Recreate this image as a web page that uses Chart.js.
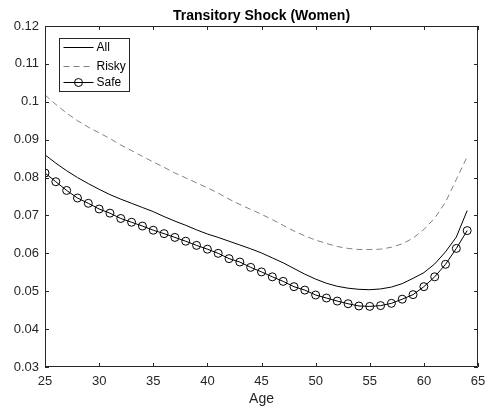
<!DOCTYPE html>
<html>
<head>
<meta charset="utf-8">
<script src="https://cdn.jsdelivr.net/npm/chart.js@4.4.0/dist/chart.umd.min.js"></script>
<style>
  html, body { margin: 0; padding: 0; background: #fff; }
</style>
</head>
<body>
<canvas id="shockChart" width="489" height="411"></canvas>
<script>
// values
const ages = [25, 26, 27, 28, 29, 30, 31, 32, 33, 34, 35, 36, 37, 38, 39, 40, 41, 42, 43, 44,
              45, 46, 47, 48, 49, 50, 51, 52, 53, 54, 55, 56, 57, 58, 59, 60, 61, 62, 63, 64];

const allVals = [0.0860, 0.0838, 0.0818, 0.0800, 0.0784, 0.0769, 0.0755, 0.0743, 0.0732, 0.0721,
                 0.0710, 0.0697, 0.0685, 0.0674, 0.0662, 0.0651, 0.0642, 0.0632, 0.0622, 0.0612,
                 0.0601, 0.0588, 0.0575, 0.0560, 0.0545, 0.0532, 0.0521, 0.0513, 0.0508, 0.0505,
                 0.0504, 0.0506, 0.0511, 0.0520, 0.0534, 0.0549, 0.0572, 0.0604, 0.0643, 0.0713];

const riskyVals = [0.1018, 0.0993, 0.0970, 0.0950, 0.0933, 0.0918, 0.0903, 0.0886, 0.0871, 0.0856,
                   0.0841, 0.0827, 0.0812, 0.0799, 0.0786, 0.0773, 0.0759, 0.0743, 0.0729, 0.0716,
                   0.0703, 0.0689, 0.0674, 0.0659, 0.0646, 0.0635, 0.0626, 0.0618, 0.0613, 0.0610,
                   0.0610, 0.0611, 0.0616, 0.0625, 0.0640, 0.0663, 0.0693, 0.0735, 0.0795, 0.0855];

const safeVals = [0.0812, 0.0789, 0.0766, 0.0746, 0.0732, 0.0717, 0.0706, 0.0692, 0.0682, 0.0672,
                  0.0661, 0.0652, 0.0642, 0.0632, 0.0621, 0.0611, 0.0600, 0.0586, 0.0577, 0.0563,
                  0.0551, 0.0538, 0.0526, 0.0512, 0.0503, 0.0490, 0.0482, 0.0474, 0.0467, 0.0461,
                  0.0460, 0.0462, 0.0468, 0.0479, 0.0491, 0.0512, 0.0538, 0.0571, 0.0613, 0.0660];

const xTicks = [25, 30, 35, 40, 45, 50, 55, 60, 65];
const yTicks = [0.03, 0.04, 0.05, 0.06, 0.07, 0.08, 0.09, 0.1, 0.11, 0.12];

const titleText = 'Transitory Shock (Women)';
const axisColor = '#262626';
const fontFamily = '"Liberation Sans", Arial, Helvetica, sans-serif';

function toPoints(vals) {
    return ages.map((a, i) => ({ x: a, y: vals[i] }));
}

// MATLAB-like box, inward ticks, title and legend inside the axes
const matlabAxes = {
    id: 'matlabAxes',
    afterDraw(chart) {
        const ctx = chart.ctx;
        const a = chart.chartArea;
        const xs = chart.scales.x;
        const ys = chart.scales.y;
        const tl = 4;
        ctx.save();
        ctx.strokeStyle = axisColor;
        ctx.lineWidth = 1;

        // box
        ctx.beginPath();
        ctx.rect(Math.round(a.left) + 0.5, Math.round(a.top) + 0.5,
                 Math.round(a.right - a.left) - 1, Math.round(a.bottom - a.top) - 1);
        ctx.stroke();

        // ticks
        ctx.beginPath();
        xTicks.forEach(v => {
            const px = Math.round(xs.getPixelForValue(v)) + 0.5;
            ctx.moveTo(px, a.bottom);
            ctx.lineTo(px, a.bottom - tl);
            ctx.moveTo(px, a.top);
            ctx.lineTo(px, a.top + tl);
        });
        yTicks.forEach(v => {
            const py = Math.round(ys.getPixelForValue(v)) + 0.5;
            ctx.moveTo(a.left, py);
            ctx.lineTo(a.left + tl, py);
            ctx.moveTo(a.right, py);
            ctx.lineTo(a.right - tl, py);
        });
        ctx.stroke();

        // title
        ctx.fillStyle = '#000';
        ctx.font = 'bold 14px ' + fontFamily;
        ctx.textAlign = 'center';
        ctx.textBaseline = 'alphabetic';
        ctx.fillText(titleText, (a.left + a.right) / 2, 20);

        // legend
        const lx = a.left + 14.5, ly = a.top + 12.5, lw = 70, lh = 53;
        ctx.fillStyle = '#fff';
        ctx.fillRect(lx, ly, lw, lh);
        ctx.strokeStyle = axisColor;
        ctx.strokeRect(lx, ly, lw, lh);
        ctx.font = '12px ' + fontFamily;
        ctx.textAlign = 'left';
        ctx.textBaseline = 'middle';
        const rows = [8.5, 27, 43.5];
        chart.data.datasets.forEach((ds, i) => {
            const yy = Math.round(ly + rows[i]) + 0.5;
            ctx.save();
            ctx.strokeStyle = ds.borderColor;
            ctx.lineWidth = ds.borderWidth;
            ctx.setLineDash(ds.borderDash || []);
            ctx.beginPath();
            ctx.moveTo(lx + 4, yy);
            ctx.lineTo(lx + 34, yy);
            ctx.stroke();
            if (ds.pointRadius > 0) {
                ctx.setLineDash([]);
                ctx.beginPath();
                ctx.arc(lx + 19, yy, ds.pointRadius, 0, Math.PI * 2);
                ctx.stroke();
            }
            ctx.restore();
            ctx.fillStyle = '#000';
            ctx.fillText(ds.label, lx + 37, yy + 0.5);
        });
        ctx.restore();
    }
};

const ctx = document.getElementById('shockChart').getContext('2d');
const shockChart = new Chart(ctx, {
    type: 'line',
    data: {
        datasets: [{
            label: 'All',
            data: toPoints(allVals),
            borderColor: '#000',
            borderWidth: 1,
            pointRadius: 0,
            tension: 0
        }, {
            label: 'Risky',
            data: toPoints(riskyVals),
            borderColor: '#808080',
            borderWidth: 1,
            borderDash: [6, 4],
            pointRadius: 0,
            tension: 0
        }, {
            label: 'Safe',
            data: toPoints(safeVals),
            borderColor: '#000',
            borderWidth: 1,
            pointRadius: 4,
            pointBorderWidth: 1,
            pointBorderColor: '#000',
            pointBackgroundColor: 'rgba(0,0,0,0)',
            tension: 0
        }]
    },
    options: {
        responsive: false,
        animation: false,
        devicePixelRatio: 1,
        layout: { padding: { top: 26, right: 11, left: 0, bottom: 0 } },
        plugins: {
            legend: { display: false },
            title: { display: false },
            tooltip: { enabled: false }
        },
        scales: {
            x: {
                type: 'linear',
                min: 25,
                max: 65,
                afterBuildTicks: s => { s.ticks = xTicks.map(v => ({ value: v })); },
                afterFit: s => { s.height = 44; s.paddingLeft = 0; s.paddingRight = 0; },
                grid: { display: false, drawTicks: false },
                border: { display: false },
                ticks: {
                    color: axisColor,
                    padding: 7,
                    maxRotation: 0,
                    font: { family: fontFamily, size: 13 }
                },
                title: {
                    display: true,
                    text: 'Age',
                    color: axisColor,
                    padding: { top: 0, bottom: 3 },
                    font: { family: fontFamily, size: 14 }
                }
            },
            y: {
                min: 0.03,
                max: 0.12,
                afterBuildTicks: s => { s.ticks = yTicks.map(v => ({ value: v })); },
                afterFit: s => { s.width = 45; s.paddingTop = 0; s.paddingBottom = 0; },
                grid: { display: false, drawTicks: false },
                border: { display: false },
                ticks: {
                    color: axisColor,
                    padding: 6,
                    font: { family: fontFamily, size: 13 },
                    callback: v => String(+v.toFixed(2))
                }
            }
        }
    },
    plugins: [matlabAxes]
});
</script>
</body>
</html>
